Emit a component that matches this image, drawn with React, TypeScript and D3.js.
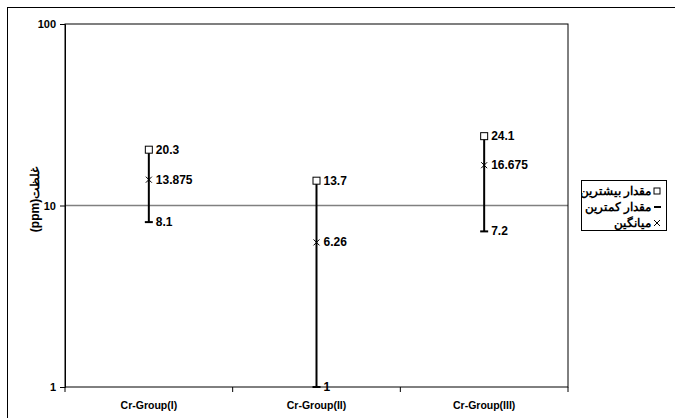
import React, { useRef, useEffect } from 'react';
import * as d3 from 'd3';

const groups = ['Cr-Group(I)', 'Cr-Group(II)', 'Cr-Group(III)'];
const maxValues = [20.3, 13.7, 24.1];
const minValues = [8.1, 1, 7.2];
const meanValues = [13.875, 6.26, 16.675];
const maxLabels = ['20.3', '13.7', '24.1'];
const minLabels = ['8.1', '1', '7.2'];
const meanLabels = ['13.875', '6.26', '16.675'];
const yTicks = [1, 10, 100];
const legendNames = ['مقدار بیشترین', 'مقدار کمترین', 'میانگین'];
const yTitle = 'غلظت(ppm)';

export default function App() {
  const svgRef = useRef<SVGSVGElement>(null);

  useEffect(() => {
    const W = 675, H = 418;
    const left = 65, right = 568, top = 24, bottom = 387;
    const font = 'Liberation Sans, Arial, sans-serif';

    const svg = d3.select(svgRef.current!);
    svg.selectAll('*').remove();
    svg.attr('width', W).attr('height', H);

    // outer chart frame
    svg.append('rect').attr('x', 7.5).attr('y', 7.5).attr('width', W + 10).attr('height', H + 10)
      .attr('fill', 'white').attr('stroke', 'black').attr('stroke-width', 1);

    const x = d3.scaleBand().domain(groups).range([left, right]);
    const y = d3.scaleLog().domain([1, 100]).range([bottom, top]);

    // gridline at 10
    svg.append('line').attr('x1', left).attr('x2', right)
      .attr('y1', y(10)).attr('y2', y(10))
      .attr('stroke', '#808080').attr('stroke-width', 1.5);

    // plot border
    svg.append('rect').attr('x', left).attr('y', top)
      .attr('width', right - left).attr('height', bottom - top)
      .attr('fill', 'none').attr('stroke', 'black').attr('stroke-width', 1);

    // y axis
    const yAxis = svg.append('g').attr('transform', `translate(${left},0)`)
      .call(d3.axisLeft(y).tickValues(yTicks).tickFormat(d3.format('d')).tickSize(5).tickPadding(4));
    yAxis.select('.domain').attr('stroke', 'black');
    yAxis.selectAll('text').attr('font-family', font).attr('font-size', 11)
      .attr('font-weight', 'bold').attr('fill', 'black');

    // x axis
    const xAxis = svg.append('g').attr('transform', `translate(0,${bottom})`)
      .call(d3.axisBottom(x).tickSize(0).tickPadding(15));
    xAxis.select('.domain').remove();
    xAxis.selectAll('text').attr('font-family', font).attr('font-size', 10.5)
      .attr('font-weight', 'bold').attr('fill', 'black');
    // category separator ticks
    const seps = groups.map((g) => (x(g) as number) + x.bandwidth());
    svg.append('g').selectAll('line').data([left, ...seps]).enter().append('line')
      .attr('x1', (d) => d).attr('x2', (d) => d)
      .attr('y1', bottom).attr('y2', bottom + 5)
      .attr('stroke', 'black');

    // y title
    svg.append('text').attr('transform', `translate(35,${(top + bottom) / 2 - 6}) rotate(-90)`)
      .attr('text-anchor', 'middle').attr('dominant-baseline', 'central').attr('direction', 'rtl')
      .attr('font-family', font).attr('font-size', 12).attr('font-weight', 'bold')
      .text(yTitle);

    const cx = (i: number) => (x(groups[i]) as number) + x.bandwidth() / 2;
    const g = svg.append('g');
    groups.forEach((_, i) => {
      const px = cx(i);
      g.append('line').attr('x1', px).attr('x2', px)
        .attr('y1', y(minValues[i])).attr('y2', y(maxValues[i]))
        .attr('stroke', 'black').attr('stroke-width', 2);
      // max marker
      g.append('rect').attr('x', px - 3.5).attr('y', y(maxValues[i]) - 3.5)
        .attr('width', 7).attr('height', 7).attr('fill', 'white').attr('stroke', 'black');
      // min marker
      g.append('line').attr('x1', px - 4).attr('x2', px + 4)
        .attr('y1', y(minValues[i])).attr('y2', y(minValues[i]))
        .attr('stroke', 'black').attr('stroke-width', 2);
      // mean marker
      const my = y(meanValues[i]);
      g.append('path').attr('d', `M${px - 3},${my - 3}L${px + 3},${my + 3}M${px - 3},${my + 3}L${px + 3},${my - 3}`)
        .attr('stroke', 'black').attr('stroke-width', 1);

      const lbl = (v: number, t: string) => g.append('text')
        .attr('x', px + 7).attr('y', y(v)).attr('dominant-baseline', 'central')
        .attr('font-family', font).attr('font-size', 12).attr('font-weight', 'bold').text(t);
      lbl(maxValues[i], maxLabels[i]);
      lbl(meanValues[i], meanLabels[i]);
      lbl(minValues[i], minLabels[i]);
    });

    // legend
    const lx = 581, ly = 180, lw = 85, lh = 50;
    svg.append('clipPath').attr('id', 'legclip').append('rect')
      .attr('x', lx + 1).attr('y', ly).attr('width', lw).attr('height', lh);
    svg.append('rect').attr('x', lx + 0.5).attr('y', ly + 0.5).attr('width', lw).attr('height', lh)
      .attr('fill', 'white').attr('stroke', 'black');
    const leg = svg.append('g').attr('clip-path', 'url(#legclip)');
    legendNames.forEach((name, i) => {
      const yy = ly + 11 + i * 16;
      const mx = lx + 76;
      leg.append('text').attr('x', mx - 6).attr('y', yy).attr('text-anchor', 'end')
        .attr('dominant-baseline', 'central')
        .attr('font-family', font).attr('font-size', 12).attr('font-weight', 'bold').text(name);
      if (i === 0) {
        leg.append('rect').attr('x', mx - 3).attr('y', yy - 3).attr('width', 6).attr('height', 6)
          .attr('fill', 'white').attr('stroke', 'black');
      } else if (i === 1) {
        leg.append('line').attr('x1', mx - 3).attr('x2', mx + 4).attr('y1', yy).attr('y2', yy)
          .attr('stroke', 'black').attr('stroke-width', 2);
      } else {
        leg.append('path').attr('d', `M${mx - 3},${yy - 3}L${mx + 3},${yy + 3}M${mx - 3},${yy + 3}L${mx + 3},${yy - 3}`)
          .attr('stroke', 'black');
      }
    });
  }, []);

  return <svg ref={svgRef} style={{ position: 'absolute', left: 0, top: 0 }}></svg>;
}
